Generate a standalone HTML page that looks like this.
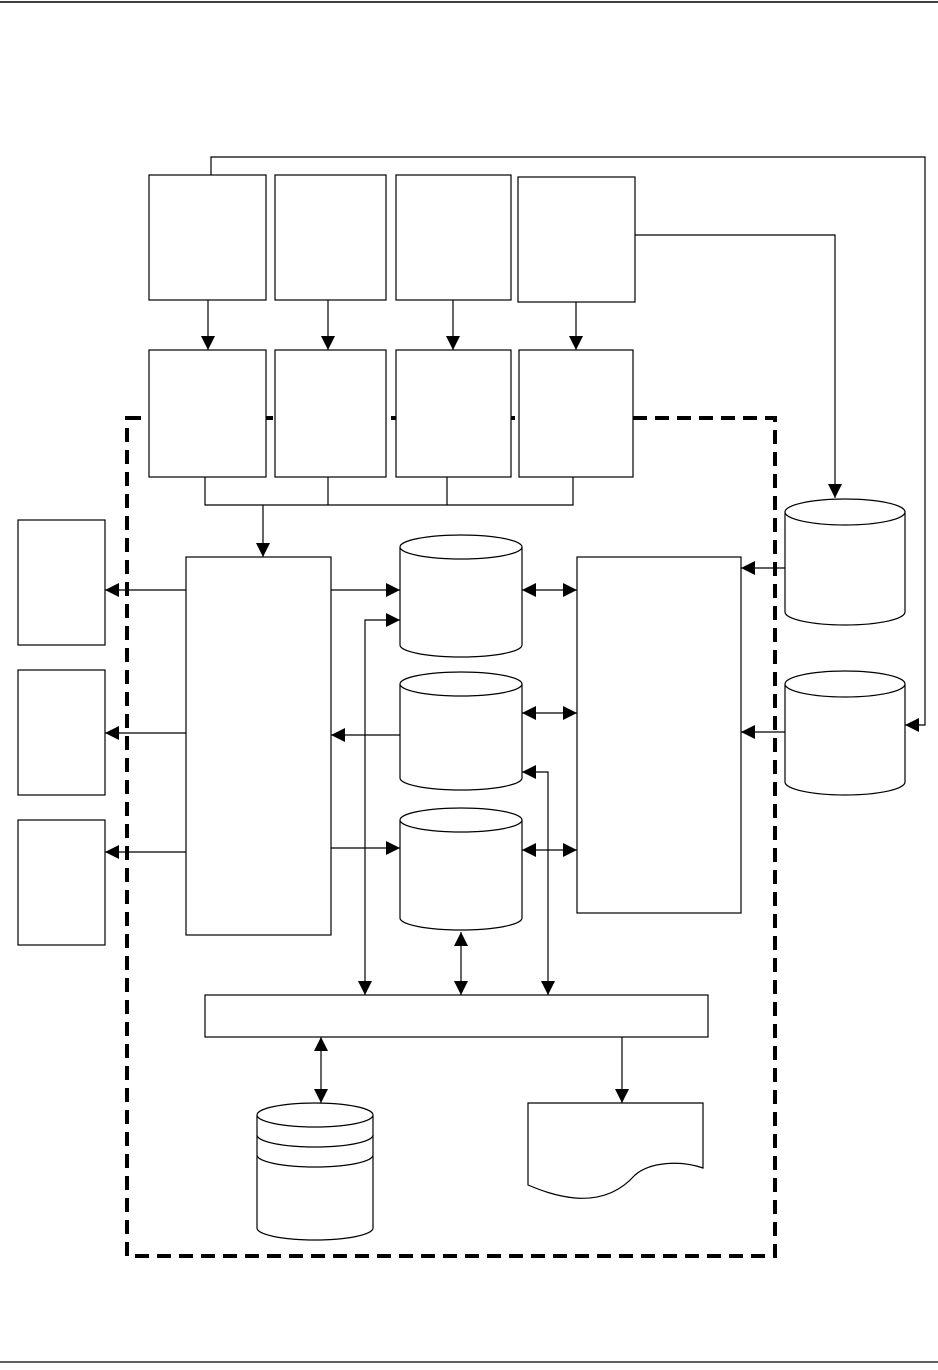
<!DOCTYPE html>
<html><head><meta charset="utf-8"><style>html,body{margin:0;padding:0;background:#fff}svg{display:block}</style></head>
<body>
<svg width="938" height="1370" viewBox="0 0 938 1370" xmlns="http://www.w3.org/2000/svg">
<defs>
<marker id="a" viewBox="0 0 10 10" refX="10" refY="5" markerWidth="14" markerHeight="14" markerUnits="userSpaceOnUse" orient="auto-start-reverse"><path d="M0,0 L10,5 L0,10 z" fill="#000"/></marker>
</defs>
<g stroke="#000" fill="none" stroke-width="1.2">
<line x1="0" y1="2" x2="938" y2="2" stroke-width="1.5"/>
<line x1="0" y1="1362" x2="938" y2="1362"/>
<rect x="127" y="418" width="648" height="838" stroke-width="4" stroke-dasharray="14,8"/>
<!-- top boxes -->
<rect x="149" y="175" width="117" height="125" fill="#fff"/>
<rect x="275" y="175" width="111" height="125" fill="#fff"/>
<rect x="396" y="175" width="115" height="125" fill="#fff"/>
<rect x="518" y="177" width="117" height="125" fill="#fff"/>
<line x1="208" y1="300" x2="208" y2="350" marker-end="url(#a)"/>
<line x1="328" y1="300" x2="328" y2="350" marker-end="url(#a)"/>
<line x1="453" y1="300" x2="453" y2="350" marker-end="url(#a)"/>
<line x1="576" y1="302" x2="576" y2="350" marker-end="url(#a)"/>
<rect x="149" y="350" width="117" height="127" fill="#fff"/>
<rect x="275" y="350" width="111" height="127" fill="#fff"/>
<rect x="396" y="350" width="115" height="127" fill="#fff"/>
<rect x="519" y="350" width="114" height="127" fill="#fff"/>
<polyline points="205,477 205,505 573,505 573,477"/>
<line x1="328" y1="477" x2="328" y2="505"/>
<line x1="447" y1="477" x2="447" y2="505"/>
<line x1="263" y1="505" x2="263" y2="557" marker-end="url(#a)"/>
<polyline points="211,175 211,157 925,157 925,725 905,725" marker-end="url(#a)"/>
<polyline points="635,235 835,235 835,498" marker-end="url(#a)"/>
<!-- main box -->
<rect x="186" y="557" width="145" height="378"/>
<rect x="18" y="520" width="87" height="125"/>
<rect x="18" y="670" width="87" height="125"/>
<rect x="18" y="820" width="87" height="125"/>
<line x1="186" y1="590" x2="105" y2="590" marker-end="url(#a)"/>
<line x1="186" y1="733" x2="105" y2="733" marker-end="url(#a)"/>
<line x1="186" y1="852" x2="105" y2="852" marker-end="url(#a)"/>
<!-- middle cylinders -->
<path d="M400,547 A61,12 0 0 1 522,547 V645 A61,12 0 0 1 400,645 Z M400,547 A61,12 0 0 0 522,547"/>
<path d="M400,684 A61,12 0 0 1 522,684 V778 A61,12 0 0 1 400,778 Z M400,684 A61,12 0 0 0 522,684"/>
<path d="M400,820 A61,12 0 0 1 522,820 V918 A61,12 0 0 1 400,918 Z M400,820 A61,12 0 0 0 522,820"/>
<line x1="331" y1="590" x2="400" y2="590" marker-end="url(#a)"/>
<line x1="400" y1="735" x2="331" y2="735" marker-end="url(#a)"/>
<line x1="331" y1="848" x2="400" y2="848" marker-end="url(#a)"/>
<!-- right box -->
<rect x="577" y="557" width="164" height="356"/>
<line x1="522" y1="590" x2="577" y2="590" marker-start="url(#a)" marker-end="url(#a)"/>
<line x1="522" y1="713" x2="577" y2="713" marker-start="url(#a)" marker-end="url(#a)"/>
<line x1="522" y1="850" x2="577" y2="850" marker-start="url(#a)" marker-end="url(#a)"/>
<!-- right cylinders -->
<path d="M785,512 A60,13 0 0 1 905,512 V612 A60,13 0 0 1 785,612 Z M785,512 A60,13 0 0 0 905,512"/>
<path d="M785,684 A60,13 0 0 1 905,684 V782 A60,13 0 0 1 785,782 Z M785,684 A60,13 0 0 0 905,684"/>
<line x1="785" y1="568" x2="741" y2="568" marker-end="url(#a)"/>
<line x1="785" y1="732" x2="741" y2="732" marker-end="url(#a)"/>
<!-- bottom bar -->
<rect x="205" y="995" width="503" height="42"/>
<line x1="461" y1="932" x2="461" y2="995" marker-start="url(#a)" marker-end="url(#a)"/>
<polyline points="400,620 365,620 365,995" marker-start="url(#a)" marker-end="url(#a)"/>
<polyline points="522,772 548,772 548,995" marker-start="url(#a)" marker-end="url(#a)"/>
<line x1="321" y1="1037" x2="321" y2="1103" marker-start="url(#a)" marker-end="url(#a)"/>
<line x1="622" y1="1037" x2="622" y2="1103" marker-end="url(#a)"/>
<!-- disk stack -->
<path d="M257,1115 A58,12 0 0 1 373,1115 V1228 A58,12 0 0 1 257,1228 Z M257,1115 A58,12 0 0 0 373,1115"/>
<path d="M257,1135 A58,12 0 0 0 373,1135 M257,1155 A58,12 0 0 0 373,1155"/>
<!-- document -->
<path d="M528,1103 H703 V1168 C680,1160 650,1162 635,1175 C620,1192 600,1200 575,1198 C555,1196 540,1190 528,1185 Z"/>
</g>
</svg>
</body></html>
